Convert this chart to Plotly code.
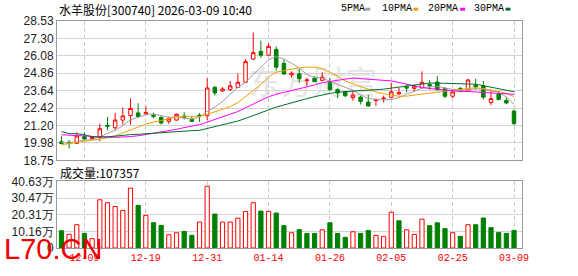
import plotly.graph_objects as go

W, H = 578, 276
ML, MR, MT, MB = 56, 56, 21, 21
PW, PH = W - ML - MR, H - MT - MB


def px(x):
    return (x - ML) / PW


def py(y):
    return (H - MB - y) / PH


dates = ["12-04", "12-05", "12-08", "12-09", "12-10", "12-11", "12-12", "12-15", "12-16", "12-17",
         "12-18", "12-19", "12-22", "12-23", "12-24", "12-25", "12-26", "12-29", "12-30", "12-31",
         "01-05", "01-06", "01-07", "01-08", "01-09", "01-12", "01-13", "01-14", "01-15", "01-16",
         "01-19", "01-20", "01-21", "01-22", "01-23", "01-26", "01-27", "01-28", "01-29", "01-30",
         "02-02", "02-03", "02-04", "02-05", "02-06", "02-09", "02-10", "02-11", "02-12", "02-13",
         "02-24", "02-25", "02-26", "02-27", "03-02", "03-03", "03-04", "03-05", "03-06", "03-09"]

opens = [20.06, 20.02, 19.95, 20.42, 20.28, 20.36, 21.22, 21.04, 21.58, 21.90,
         22.08, 22.01, 21.92, 21.76, 21.49, 21.58, 21.87, 21.62, 21.93, 21.88,
         23.87, 23.62, 23.71, 23.87, 24.23, 25.86, 26.40, 26.13, 26.54, 25.56,
         24.76, 24.82, 24.34, 24.52, 24.37, 24.20, 23.71, 23.57, 23.15, 23.19,
         22.84, 22.94, 23.08, 23.18, 23.42, 23.91, 23.80, 23.85, 24.07, 24.25,
         23.80, 23.25, 23.80, 23.62, 24.03, 23.98, 22.81, 23.42, 22.96, 22.21]
highs = [20.45, 20.18, 20.72, 20.72, 20.42, 21.33, 21.79, 22.08, 22.47, 23.10,
         22.76, 22.55, 22.10, 21.87, 21.81, 22.03, 22.13, 21.81, 22.06, 24.50,
         23.98, 23.89, 24.32, 24.84, 25.86, 27.72, 27.15, 26.97, 26.75, 25.84,
         25.00, 25.16, 24.55, 24.66, 24.93, 24.52, 23.80, 23.62, 23.66, 23.28,
         23.35, 23.08, 23.30, 24.20, 23.85, 24.10, 24.07, 25.00, 24.37, 24.66,
         23.89, 23.76, 23.91, 24.48, 24.48, 24.32, 23.62, 23.62, 23.19, 22.33]
lows = [19.90, 19.59, 19.93, 20.20, 20.20, 20.09, 20.86, 20.88, 21.26, 21.26,
        21.83, 21.94, 21.72, 21.26, 21.31, 21.54, 21.62, 21.45, 21.45, 21.58,
        23.30, 23.57, 23.62, 23.82, 24.20, 25.79, 25.95, 26.09, 25.05, 24.75,
        24.55, 24.20, 23.98, 24.27, 24.35, 23.66, 23.12, 23.21, 22.94, 22.67,
        22.51, 22.57, 22.81, 23.10, 23.32, 23.53, 23.57, 23.80, 23.71, 23.66,
        23.12, 23.12, 23.53, 23.57, 23.71, 23.03, 22.62, 22.96, 22.69, 21.22]
closes = [19.93, 19.95, 20.47, 20.25, 20.36, 20.97, 21.15, 21.58, 21.87, 22.40,
          21.83, 22.10, 21.85, 21.38, 21.67, 21.99, 21.76, 21.49, 21.90, 23.83,
          23.48, 23.76, 23.98, 24.23, 25.68, 26.31, 26.13, 26.75, 25.29, 24.82,
          24.86, 24.48, 24.39, 24.27, 24.59, 23.71, 23.48, 23.28, 23.33, 22.89,
          22.57, 23.03, 23.12, 23.56, 23.50, 23.84, 23.96, 24.23, 23.98, 23.71,
          23.25, 23.55, 23.71, 24.39, 23.93, 23.19, 23.08, 23.03, 22.78, 21.33]

# volume in 万 (10k lots)
vol_wan = [10.5, 8.3, 14.2, 8.9, 5.7, 29.4, 27.6, 25.3, 22.9, 36.5,
           26.0, 19.9, 15.4, 13.8, 8.1, 9.3, 10.1, 7.7, 15.8, 37.7,
           20.7, 15.8, 15.8, 18.2, 22.3, 27.6, 22.5, 22.3, 21.3, 13.6,
           9.3, 11.2, 8.9, 8.9, 11.1, 15.4, 8.9, 6.5, 9.9, 8.9,
           10.7, 7.7, 7.1, 21.8, 16.6, 11.1, 8.3, 17.6, 13.6, 15.4,
           11.8, 9.3, 7.1, 14.2, 14.2, 18.3, 12.4, 9.5, 8.9, 10.7357]
vol_up = [0, 1, 1, 0, 1, 1, 1, 1, 1, 1,
          0, 1, 0, 0, 1, 1, 0, 0, 1, 1,
          0, 1, 1, 1, 1, 1, 0, 1, 0, 0,
          1, 0, 0, 0, 1, 0, 0, 0, 1, 0,
          0, 1, 1, 1, 0, 1, 1, 1, 0, 0,
          0, 1, 0, 1, 0, 0, 0, 0, 0, 0]

ma5_head = [20.02, 19.96, 20.06, 20.18]
ma10_head = [19.85, 19.93, 20.02, 20.10, 20.16, 20.26, 20.33, 20.47, 20.68]
ma20_head = [20.55, 20.50, 20.49, 20.47, 20.42, 20.38, 20.37, 20.37, 20.37, 20.42,
             20.48, 20.57, 20.66, 20.72, 20.84, 20.93, 21.05, 21.14, 21.26]
ma30_head = [20.77, 20.63, 20.62, 20.55, 20.40, 20.38, 20.41, 20.45, 20.52, 20.56,
             20.58, 20.62, 20.65, 20.70, 20.76, 20.80, 20.82, 20.84, 20.86, 20.99,
             21.11, 21.24, 21.37, 21.51, 21.70, 21.91, 22.11, 22.31, 22.49]

price_ticktext = ["18.75", "19.98", "21.20", "22.42", "23.64", "24.86", "26.08", "27.30", "28.53"]
vol_ticktext = ["0", "10.16万", "20.31万", "30.47万", "40.63万"]
tick_dates = ["12-09", "12-19", "12-31", "01-14", "01-26", "02-05", "02-25", "03-09"]
ma_names = ["5PMA", "10PMA", "20PMA", "30PMA"]
ma_colors = ["#a0a0a0", "#f0a000", "#ff00ff", "#006e2e"]

P_LO, P_HI = 18.75, 28.53
V_HI = 40.63
RED, GREEN = "#ff0000", "#008000"


def ma(n, head):
    out = list(head)
    for i in range(n - 1, len(closes)):
        out.append(sum(closes[i - n + 1:i + 1]) / n)
    return out


mas = [ma(5, ma5_head), ma(10, ma10_head), ma(20, ma20_head), ma(30, ma30_head)]

fig = go.Figure()

fig.add_trace(go.Candlestick(
    x=dates, open=opens, high=highs, low=lows, close=closes,
    increasing=dict(line=dict(color=RED, width=1), fillcolor="white"),
    decreasing=dict(line=dict(color=GREEN, width=1), fillcolor=GREEN),
    whiskerwidth=0, xaxis="x", yaxis="y", hoverinfo="skip"))

for vals, col in zip(mas, ma_colors):
    fig.add_trace(go.Scatter(x=dates, y=vals, mode="lines",
                             line=dict(color=col, width=1), xaxis="x", yaxis="y",
                             hoverinfo="skip"))

fig.add_trace(go.Bar(
    x=dates, y=vol_wan, width=0.55,
    marker=dict(color=["white" if u else GREEN for u in vol_up],
                line=dict(color=[RED if u else GREEN for u in vol_up], width=1)),
    xaxis="x2", yaxis="y2", hoverinfo="skip"))

XR = [-0.58, 60.04]
grid_x = dict(showgrid=True, gridcolor="#c8c8c8", gridwidth=1, griddash="4px,3px",
              tickmode="array", tickvals=tick_dates, ticks="", zeroline=False,
              showline=True, mirror=True, linecolor="#999999", linewidth=1,
              type="category", range=XR, fixedrange=True)

fig.update_layout(
    width=W, height=H,
    margin=dict(l=ML, r=MR, t=MT, b=MB, pad=0),
    paper_bgcolor="white", plot_bgcolor="white",
    showlegend=False, hovermode=False, boxgap=0.35,
    font=dict(family="Liberation Sans, Arial, sans-serif", size=12, color="#222222"),
    xaxis=dict(domain=[0, 1], anchor="y", showticklabels=False,
               rangeslider=dict(visible=False), **grid_x),
    yaxis=dict(domain=[py(164.7), 1], range=[P_LO, P_HI], tickmode="array",
               tickvals=[P_LO + k * (P_HI - P_LO) / 8 for k in range(9)],
               ticktext=price_ticktext, showgrid=True, gridcolor="#d4d4d4", gridwidth=1,
               ticks="", zeroline=False, showline=True, mirror=True,
               linecolor="#999999", linewidth=1, fixedrange=True,
               tickfont=dict(family="Liberation Sans, Arial, sans-serif", size=12, color="#222222")),
    xaxis2=dict(domain=[0, 1], anchor="y2", showticklabels=True, ticktext=tick_dates,
                tickfont=dict(family="Liberation Mono, monospace", size=10, color="#ff0000"),
                **grid_x),
    yaxis2=dict(domain=[0, py(186.3)], range=[0, V_HI], tickmode="array",
                tickvals=[k * V_HI / 4 for k in range(5)], ticktext=vol_ticktext,
                showgrid=True, gridcolor="#d4d4d4", gridwidth=1, ticks="",
                zeroline=False, showline=True, mirror=True, linecolor="#999999",
                linewidth=1, fixedrange=True,
                tickfont=dict(family="Liberation Sans, Arial, sans-serif", size=12, color="#222222")),
)

annotations = [
    dict(text="水羊股份[300740] 2026-03-09 10:40", x=px(56), y=py(9.5), xanchor="left",
         yanchor="middle", font=dict(family="Noto Sans CJK SC", size=12, color="#000000")),
    dict(text="成交量:107357", x=px(57), y=py(176.7), xanchor="left", yanchor="middle",
         font=dict(family="Noto Sans CJK SC", size=12, color="#000000")),
    dict(text="L70.CN", x=px(1), y=py(256), xanchor="left", yanchor="middle",
         font=dict(family="Liberation Sans, Arial", size=29, color="#ee0000")),
]
legend_text_x = [339, 380, 426, 472]
legend_mark_x = [365, 413, 460, 505.5]
shapes = []
for name, col, tx, mx in zip(ma_names, ma_colors, legend_text_x, legend_mark_x):
    annotations.append(dict(text=name, x=px(tx), y=py(8.5), xanchor="left", yanchor="middle",
                            font=dict(family="Liberation Mono, monospace", size=10, color="#000000")))
    shapes.append(dict(type="rect", xref="paper", yref="paper", x0=px(mx), x1=px(mx + 5),
                       y0=py(10.3), y1=py(7.3), fillcolor=col, line=dict(width=0)))

for a in annotations:
    a.update(xref="paper", yref="paper", showarrow=False)

# faint brand watermark behind the candles
shapes.append(dict(type="rect", xref="paper", yref="paper", x0=px(235), x1=px(390),
                   y0=py(105), y1=py(68), fillcolor="rgba(0,0,0,0)", line=dict(width=0),
                   layer="below",
                   label=dict(text="东方财富", textposition="middle center",
                              font=dict(family="Noto Sans CJK SC", size=32, color="#e6e6e6"))))

fig.update_layout(annotations=annotations, shapes=shapes)

fig.write_html("out.html")
